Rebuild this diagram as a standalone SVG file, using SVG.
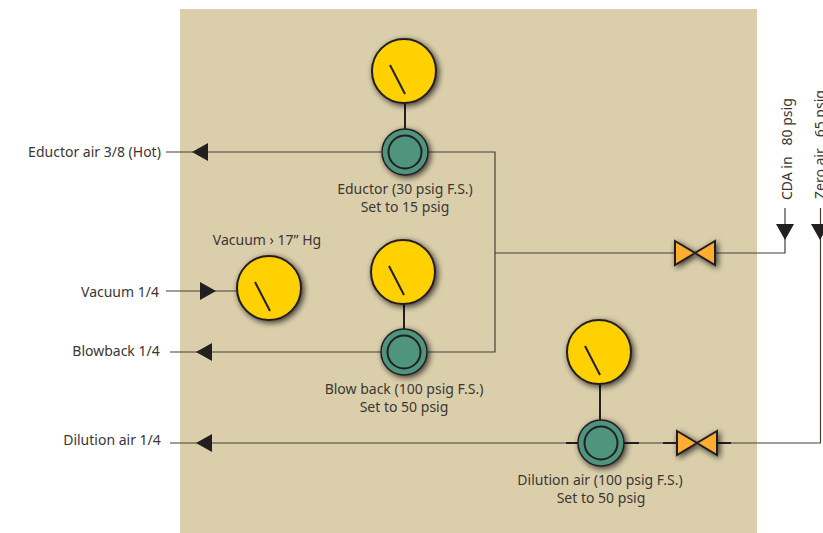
<svg xmlns="http://www.w3.org/2000/svg" width="823" height="533" viewBox="0 0 823 533">
<style>
text{font-family:"Noto Sans","Open Sans",sans-serif;font-size:14px;fill:#3a3635;text-anchor:middle}
.l{text-anchor:start}
.ln{fill:none;stroke:#45413a;stroke-width:1.2}
.bk{fill:none;stroke:#231f20;stroke-width:2}
.hd{fill:#231f20}
.g{fill:#ffd100;stroke:#231f20;stroke-width:2;filter:url(#s)}
.n{stroke:#231f20;stroke-width:2;fill:none}
.r{fill:#4f957e;stroke:#231f20;stroke-width:1.5;filter:url(#s)}
.ri{fill:#4f957e;stroke:#231f20;stroke-width:2}
.v{fill:#fbae33;stroke:#231f20;stroke-width:2;stroke-linejoin:miter;filter:url(#s)}
</style>
<defs>
<filter id="s" x="-30%" y="-30%" width="160%" height="160%"><feGaussianBlur in="SourceAlpha" stdDeviation="3.2"/><feOffset dx="1.5" dy="1.5"/><feComponentTransfer><feFuncA type="linear" slope="0.75"/></feComponentTransfer><feMerge><feMergeNode/><feMergeNode in="SourceGraphic"/></feMerge></filter>
<g id="gauge"><circle class="g" r="32"/><path class="n" d="M-14-6L1 23"/></g>
<g id="reg"><circle class="r" r="23"/><circle class="ri" r="16.5"/></g>
<path id="valve" class="v" d="M-20-12L0 0L-20 12ZM20-12L0 0L20 12Z"/>
</defs>
<rect x="180" y="9" width="577" height="524" fill="#dbcfab"/>
<g id="connectors">
<path class="ln" d="M166 152H381M428 152H495V352H428M381 352H170M495 253H675M715 253H785V208M166 291H237M170 443H578M624 443H678M718 443H820.5V208"/>
<path class="bk" d="M405 103V129M404 304V329M600 384V420M578 443H566M624 443H639M663 443H678M716 443H731"/>
<path class="hd" d="M192 152L208 143V161ZM216 291L200 282V300ZM196 352L212 343V361ZM196 443L212 434V452ZM785 240L776 224H794ZM820 240L811 224H829Z"/>
</g>
<g id="gauge-eductor"><use href="#gauge" x="404" y="71"/></g>
<g id="reg-eductor"><use href="#reg" x="405" y="152"/></g>
<g id="gauge-vacuum"><use href="#gauge" x="269" y="288"/></g>
<g id="gauge-blowback"><use href="#gauge" x="403" y="272"/></g>
<g id="reg-blowback"><use href="#reg" x="404" y="352"/></g>
<g id="gauge-dilution"><use href="#gauge" x="599" y="352"/></g>
<g id="reg-dilution"><use href="#reg" x="601" y="443"/></g>
<g id="valve-cda"><use href="#valve" x="695" y="253"/></g>
<g id="valve-dilution"><use href="#valve" x="697" y="443"/></g>
<g id="labels">
<text x="94.500" y="157">Eductor air 3/8 (Hot)</text>
<text x="120" y="297">Vacuum 1/4</text>
<text x="116" y="356">Blowback 1/4</text>
<text x="112" y="445">Dilution air 1/4</text>
<text x="405" y="194">Eductor (30 psig F.S.)</text>
<text x="405" y="212">Set to 15 psig</text>
<text x="267" y="245">Vacuum › 17” Hg</text>
<text x="404" y="394">Blow back (100 psig F.S.)</text>
<text x="404" y="412">Set to 50 psig</text>
<text x="600" y="485">Dilution air (100 psig F.S.)</text>
<text x="601" y="503">Set to 50 psig</text>
<text transform="translate(792 200) rotate(-90)" class="l" xml:space="preserve">CDA in   80 psig</text>
<text transform="translate(825 199) rotate(-90)" class="l" xml:space="preserve">Zero air   65 psig</text>
</g>
</svg>
